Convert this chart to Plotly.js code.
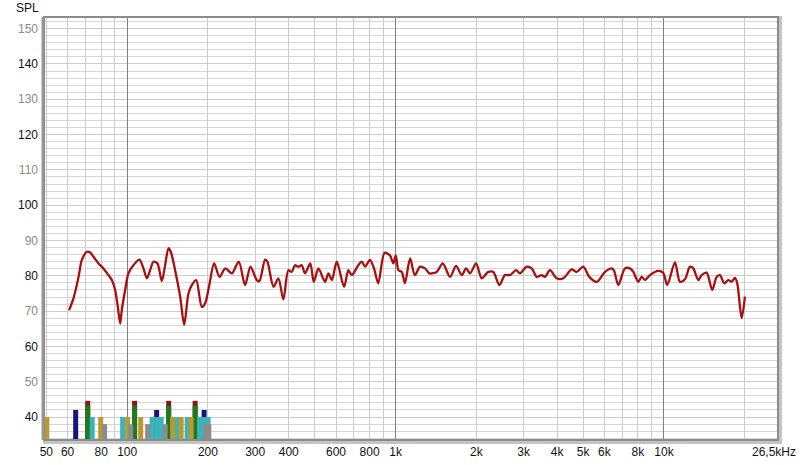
<!DOCTYPE html>
<html>
<head>
<meta charset="utf-8">
<script src="https://cdn.plot.ly/plotly-3.0.1.min.js"></script>
<style>html,body{margin:0;padding:0;background:#fff;}#chart{width:800px;height:465px;}</style>
</head>
<body>
<div id="chart"></div>
<script>
// Frequency response (Hz, dB SPL)
const freq = [60.8,63.1,65.9,67.8,70.8,72.8,74.9,78.2,81.6,85.2,87.7,90.2,92.3,94.2,95.5,98.3,101.1,105.5,111.1,115.0,118.4,121.8,125.3,129.7,134.6,138.5,142.5,145.4,150.9,157.6,163.1,169.2,174.5,180.8,189.7,195.2,201.9,210.9,220.8,232.1,245.6,260.5,275,288,304,311,326.5,333,351,366,382,398.6,410,422,434,447,460,481,496,516,546,562,579,604,643,667,687,726,748,770,803,831,862,910,953,981,1002,1025,1055,1084,1133,1180,1234,1288,1336,1423,1499,1596,1680,1765,1831,1895,1995,2094,2216,2313,2436,2557,2669,2811,2909,3081,3216,3357,3503,3605,3762,3985,4217,4531,4730,5006,5270,5616,6031,6387,6515,6760,7156,7470,7687,8024,8260,8500,8868,9524,9941,10290,10990,11470,11970,12500,12860,13420,13820,14420,15130,15720,16170,16770,17360,17870,18390,18750,19470,20030];
const spl = [70.3,73.6,79.7,84.5,86.8,86.6,85.4,83.5,82.1,80.2,78.8,76.0,71.2,66.5,70.3,76.0,80.7,83.0,84.6,82.1,79.3,81.6,84.0,83.5,78.5,83.0,87.8,86.8,81.6,74.1,66.1,75.0,77.5,78.8,71.2,72.2,77.0,83.5,79.7,82.1,80.7,84.0,77.4,82.6,78.8,78.5,84.6,84.0,76.9,79.3,73.3,81.6,81.1,83.0,82.6,83.0,80.7,83.5,78.3,82.1,78.3,80.7,78.8,84.0,76.9,81.6,80.2,83.0,84.0,82.6,84.5,82.1,77.9,86.5,85.8,83.5,85.8,81.6,81.1,77.9,84.9,80.2,82.6,82.1,80.7,81.1,83.5,79.7,82.8,80.2,82.1,80.7,83.5,79.3,81.1,81.1,77.4,80.2,80.2,81.6,80.7,82.6,82.1,79.7,80.2,79.7,81.6,79.3,79.3,81.8,81.1,82.6,79.7,78.3,81.1,82.1,81.5,77.4,82.1,82.1,81.1,78.3,79.7,78.8,80.2,81.4,80.8,77.4,83.8,78.3,79.0,82.6,82.1,78.8,80.2,80.9,76.0,79.7,80.2,77.9,78.8,78.3,79.4,77.9,68.0,74.1];

// Room mode markers (Hz) and their levels (dB)
const capFreq = [71.3,106.6,142.8,179.2];
const capLevel = 44.6;
const greenFreq = [71.3,106.6,142.8,179.2];
const greenLevel = 43.2;
const navyFreq = [64.3,128.8,193.5];
const navyLevel = 42;
const tealFreq = [74.1,96.2,123.9,128.8,133.9,152.9,167.3,186.2,193.5,200.3];
const tealLevel = 40;
const goldFreq = [50.2,79.7,100.4,112.3,147.7,158.9,173.2];
const goldLevel = 40;
const grayFreq = [82.4,103.0,119.2,138.5,196.5,201.5];
const grayLevel = 38;

// Axis ticks
const xTickVals = [50,60,70,80,90,100,200,300,400,500,600,700,800,900,1000,2000,3000,4000,5000,6000,7000,8000,9000,10000,20000,26500];
const xTickText = ['50','60','','80','','100','200','300','400','','600','','800','','1k','2k','3k','4k','5k','6k','','8k','','10k','',''];
const xEndLabel = '26,5kHz';
const xEndFreq = 26500;
const xMajor = [100,1000,10000];
const yTickVals = [40,50,60,70,80,90,100,110,120,130,140,150];

const yMin = 33.5, yMax = 153.3;

function bars(fs, level, color) {
  const x = [], y = [];
  fs.forEach(f => { x.push(f, f, null); y.push(yMin, level, null); });
  return {x, y, type: 'scatter', mode: 'lines', line: {color, width: 5}, hoverinfo: 'skip', showlegend: false};
}

const traces = [
  bars(capFreq, capLevel, '#7a1f1c'),
  bars(greenFreq, greenLevel, '#1f7a1f'),
  bars(navyFreq, navyLevel, '#15157e'),
  bars(tealFreq, tealLevel, '#3ab3bb'),
  bars(goldFreq, goldLevel, '#b99a30'),
  bars(grayFreq, grayLevel, '#8c8c8c'),
  {x: freq, y: spl, type: 'scatter', mode: 'lines', line: {color: '#a80f0f', width: 2.3, shape: 'spline', smoothing: 0.8}, showlegend: false},
  {x: [100], y: [0], xaxis: 'x2', type: 'scatter', mode: 'markers', marker: {opacity: 0}, showlegend: false, hoverinfo: 'skip'}
];

const yTickText = yTickVals.map(v => (v / 10) % 2 === 0 ? String(v) : '<span style="color:#8a8a8a">' + v + '</span>');

const W = 800 - 44 - 22, H = 465 - 17 - 25;
const layout = {
  width: 800, height: 465,
  margin: {l: 44, r: 22, t: 17, b: 25},
  paper_bgcolor: '#ffffff', plot_bgcolor: '#ffffff',
  font: {family: 'Arial, "Liberation Sans", sans-serif', size: 12, color: '#111'},
  xaxis: {
    type: 'log', range: [Math.log10(49), Math.log10(26600)],
    tickmode: 'array', tickvals: xTickVals, ticktext: xTickText,
    showgrid: true, gridcolor: '#cccccc', gridwidth: 1,
    zeroline: false, showline: false, ticks: '', ticklen: 0, ticklabelstandoff: 3,
    tickfont: {size: 12, color: '#111'}
  },
  xaxis2: {
    type: 'log', range: [Math.log10(49), Math.log10(26600)], overlaying: 'x',
    tickmode: 'array', tickvals: xMajor, showticklabels: false,
    showgrid: true, gridcolor: '#7f7f7f', gridwidth: 1, zeroline: false, showline: false, ticks: ''
  },
  yaxis: {
    range: [yMin, yMax],
    tickmode: 'array', tickvals: yTickVals, ticktext: yTickText,
    showgrid: true, gridcolor: '#cccccc', gridwidth: 1,
    minor: {dtick: 2, tick0: 0, showgrid: true, gridcolor: '#d6d6d6', gridwidth: 1, ticks: ''},
    zeroline: false, showline: false, ticks: '', ticklen: 0, ticklabelstandoff: 5,
    tickfont: {size: 12, color: '#111'}
  },
  shapes: [
    {type: 'line', xref: 'paper', yref: 'paper', x0: 1 + 2/W, x1: 1 + 2/W, y0: -3/H, y1: 1 + 1/H, line: {color: '#c4c4c4', width: 4}},
    {type: 'line', xref: 'paper', yref: 'paper', x0: -1/W, x1: 1 + 4/W, y0: -2/H, y1: -2/H, line: {color: '#c4c4c4', width: 4}},
    {type: 'rect', xref: 'paper', yref: 'paper', x0: 0, x1: 1, y0: 0, y1: 1, line: {color: '#8c8c8c', width: 2}},
    {type: 'line', xref: 'paper', yref: 'paper', x0: -1.5/W, x1: -1.5/W, y0: 0, y1: 1, line: {color: '#9a9a9a', width: 2}}
  ],
  annotations: [
    {text: 'SPL', xref: 'paper', yref: 'paper', x: 0, y: 1, xanchor: 'right', yanchor: 'middle', xshift: -3, yshift: 9, showarrow: false, font: {size: 12, color: '#111'}},
    {text: xEndLabel, xref: 'x', yref: 'paper', x: Math.log10(xEndFreq), y: 0, xanchor: 'center', yanchor: 'top', xshift: -4, yshift: -3, showarrow: false, font: {size: 12, color: '#111'}}
  ]
};

Plotly.newPlot('chart', traces, layout, {staticPlot: true, displayModeBar: false});
</script>
</body>
</html>
